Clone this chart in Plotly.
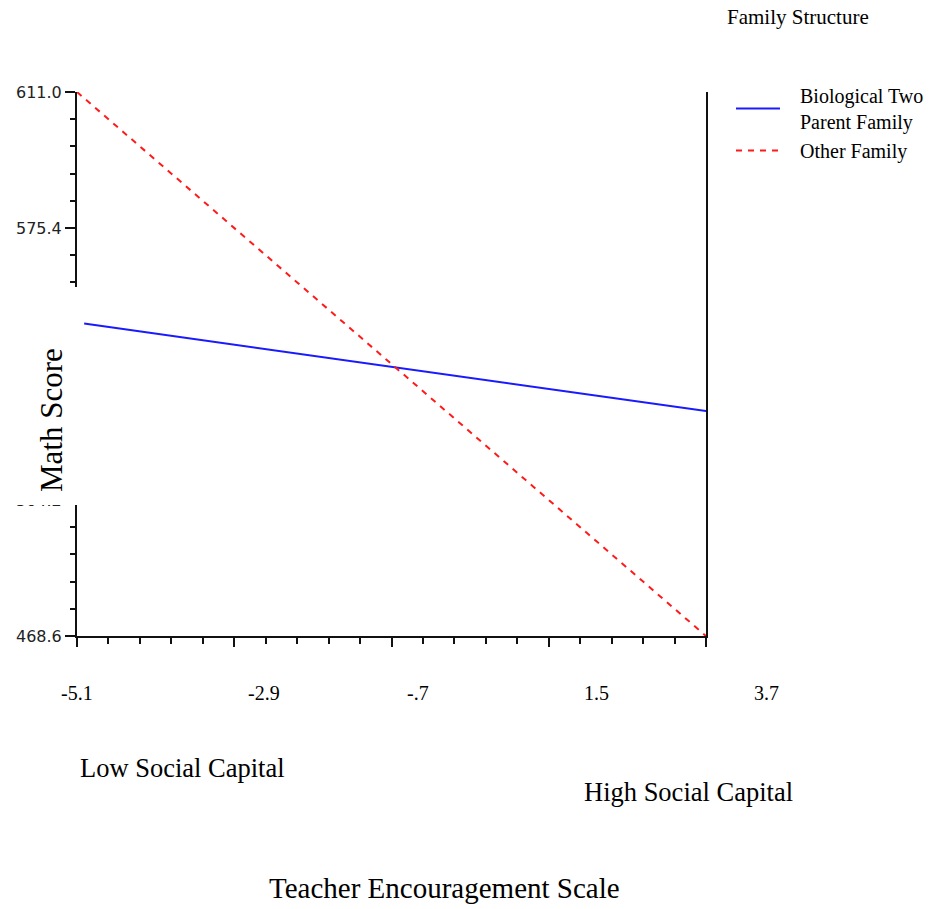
import plotly.graph_objects as go

# ---- data ----
bio_x = [-5.0, 3.7]
bio_y = [550.4, 527.5]
other_x = [-5.1, 3.7]
other_y = [611.0, 468.6]

x_major = [-5.1, -2.9, -0.7, 1.5, 3.7]
x_tick_text = ["-5.1", "-2.9", "-.7", "1.5", "3.7"]
y_major = [468.6, 504.2, 539.8, 575.4, 611.0]
y_tick_text = ["468.6", "504.2", "539.8", "575.4", "611.0"]

series_names = ["Biological Two<br>Parent Family", "Other Family"]

W, H = 937, 909
L, R, T, B = 77, 231, 92, 273
PW, PH = W - L - R, H - T - B


def px_x(p):
    return (p - L) / PW


def px_y(p):
    return (H - B - p) / PH


SERIF = "Liberation Serif, Times New Roman, serif"
PAD = "\u00a0\u00a0\u00a0"

fig = go.Figure()
fig.add_trace(go.Scatter(x=bio_x, y=bio_y, mode="lines",
                         name="<br>".join(PAD + s for s in series_names[0].split("<br>")),
                         line=dict(color="#1a1aff", width=2)))
fig.add_trace(go.Scatter(x=other_x, y=other_y, mode="lines", name=PAD + series_names[1],
                         line=dict(color="#ff1a1a", width=2, dash="6px,6px")))

annotations = []
# x tick labels (placed where the reference prints them)
x_label_px = [77, 264, 418, 596, 766]
for t, p in zip(x_tick_text, x_label_px):
    annotations.append(dict(text=t, x=px_x(p), y=px_y(693), xref="paper", yref="paper",
                            xanchor="center", yanchor="middle", showarrow=False,
                            font=dict(family=SERIF, size=20, color="black")))

annotations += [
    dict(text="Math Score", x=px_x(51), y=px_y(420), xref="paper", yref="paper",
         textangle=-90, showarrow=False, xanchor="center", yanchor="middle",
         font=dict(family=SERIF, size=31, color="black")),
    dict(text="Family Structure", x=px_x(798), y=px_y(17), xref="paper", yref="paper",
         showarrow=False, xanchor="center", yanchor="middle",
         font=dict(family=SERIF, size=21, color="black")),
    dict(text="Low Social Capital", x=px_x(182), y=px_y(768), xref="paper", yref="paper",
         showarrow=False, xanchor="center", yanchor="middle",
         font=dict(family=SERIF, size=26.5, color="black")),
    dict(text="High Social Capital", x=px_x(688), y=px_y(792), xref="paper", yref="paper",
         showarrow=False, xanchor="center", yanchor="middle",
         font=dict(family=SERIF, size=26.5, color="black")),
    dict(text="Teacher Encouragement Scale", x=px_x(444), y=px_y(888), xref="paper", yref="paper",
         showarrow=False, xanchor="center", yanchor="middle",
         font=dict(family=SERIF, size=29, color="black")),
]

shapes = [
    # white box behind the y title that interrupts the y axis
    dict(type="rect", xref="paper", yref="paper", x0=px_x(0), x1=px_x(81),
         y0=px_y(505), y1=px_y(287), fillcolor="white", line=dict(width=0), layer="above"),
]

fig.update_layout(
    width=W, height=H,
    margin=dict(l=L, r=R, t=T, b=B, pad=0, autoexpand=False),
    paper_bgcolor="white", plot_bgcolor="white",
    showlegend=True,
    legend=dict(x=px_x(731), y=px_y(76), xanchor="left", yanchor="top",
                font=dict(family=SERIF, size=20, color="black"),
                bgcolor="rgba(0,0,0,0)", itemwidth=44, tracegroupgap=0),
    annotations=annotations,
    shapes=shapes,
    xaxis=dict(range=[-5.1, 3.7], showgrid=False, zeroline=False,
               showline=True, linecolor="#111", linewidth=2,
               tickmode="array", tickvals=x_major, showticklabels=False,
               ticks="outside", ticklen=9, tickwidth=2, tickcolor="#111",
               minor=dict(dtick=0.44, tick0=-5.1, ticks="outside", ticklen=6,
                          tickwidth=2, tickcolor="#111", showgrid=False)),
    yaxis=dict(range=[468.6, 611.0], showgrid=False, zeroline=False,
               showline=True, linecolor="#111", linewidth=2, mirror=True,
               tickmode="array", tickvals=y_major, ticktext=y_tick_text,
               ticks="outside", ticklen=10, tickwidth=2, tickcolor="#111",
               tickfont=dict(family="DejaVu Sans, sans-serif", size=16, color="#222"),
               minor=dict(dtick=7.12, tick0=468.6, ticks="outside", ticklen=5,
                          tickwidth=2, tickcolor="#111", showgrid=False)),
)

fig.write_html("out.html")
